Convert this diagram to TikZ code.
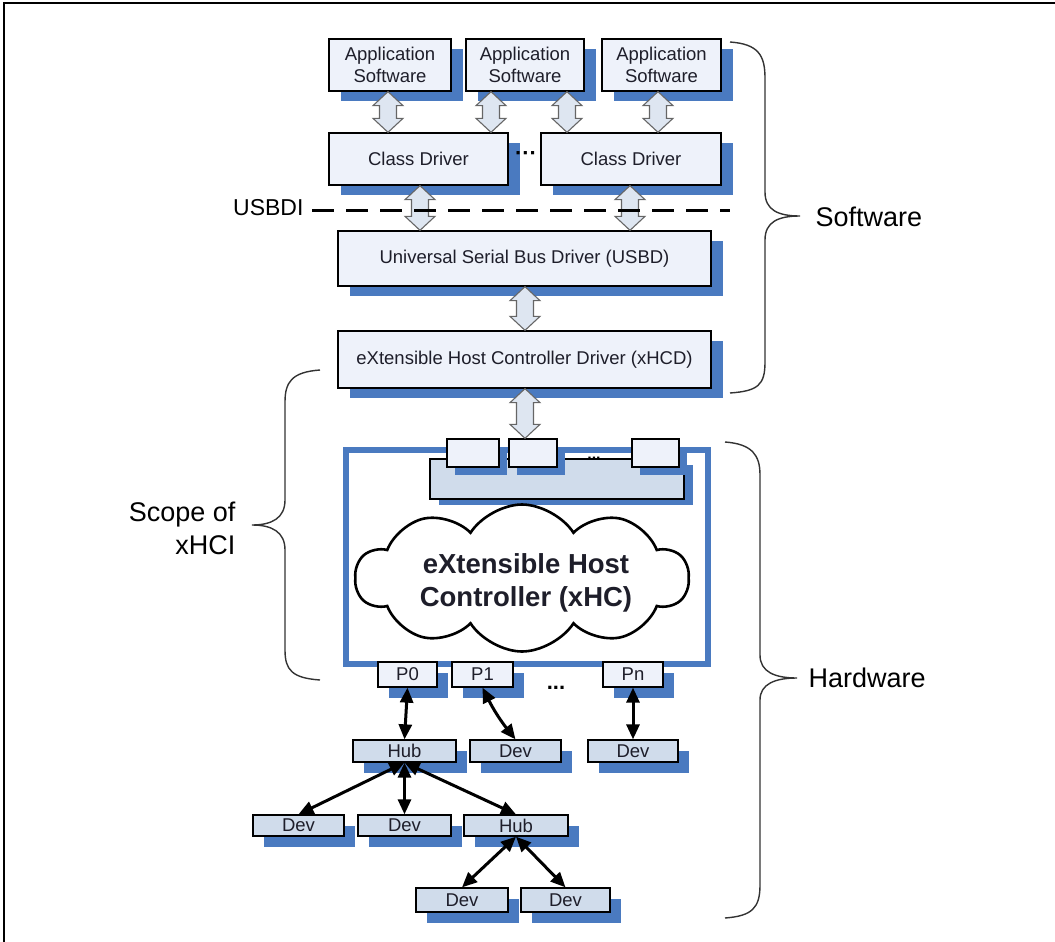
\documentclass[tikz,border=0pt]{standalone}
\usepackage{fontspec}
\setmainfont{Liberation Sans}
\usetikzlibrary{shapes.symbols,shadows,arrows.meta,calc}
\definecolor{sblue}{HTML}{4A7AC0}
\definecolor{bfill}{HTML}{EEF2FA}
\definecolor{dfill}{HTML}{D0DCEB}
\definecolor{afill}{HTML}{DEE6F1}
\definecolor{tcol}{HTML}{1E1E2A}
\tikzset{
 shd/.style 2 args={drop shadow={shadow xshift=#1pt, shadow yshift=-#2pt, fill=sblue, opacity=1}},
 boxbase/.style={draw=black, line width=1.3pt, fill=bfill, inner sep=0pt, font=\fontsize{18.5}{22}\selectfont, text=tcol, align=center},
 bigbox/.style={boxbase, shd={12}{10}},
 devbox/.style={boxbase, fill=dfill, shd={11}{11}},
 portbox/.style={boxbase, shd={11}{11}},
 qbox/.style={boxbase, shd={8}{8}},
 barrow/.style={draw=black!60, fill=afill, line width=1.1pt, line join=miter},
 lnk/.style={line width=3pt, {Triangle[length=15pt,width=13pt]}-{Triangle[length=15pt,width=13pt]}},
 bracepath/.style={draw=black!80, line width=1.4pt},
 lbl/.style={font=\fontsize{27}{33}\selectfont, text=black},
}
\newcommand\blkarrow[3]{\draw[barrow] let \p1=(#2.south), \p2=(#3.north) in
  ({#1pt},\y1) -- ++(15pt,-14pt) -- ++(-6.5pt,0pt) -- ({#1pt+8.5pt},{\y2+14pt}) -- ++(6.5pt,0pt)
  -- ({#1pt},\y2) -- ++(-15pt,14pt) -- ++(6.5pt,0pt) -- ({#1pt-8.5pt},{\y1-14pt}) -- ++(-6.5pt,0pt) -- cycle;}
\begin{document}
\begin{tikzpicture}[x=1pt,y=-1pt]
\useasboundingbox (0,0) rectangle (1055,942);
% frame
\draw[line width=2.2pt] (4,942) -- (4,3) -- (1055,3);

% software stack
\node[bigbox, minimum width=122pt, minimum height=52pt] (app1) at (390,65) {Application\\Software};
\node[bigbox, minimum width=118pt, minimum height=52pt] (app2) at (525,65) {Application\\Software};
\node[bigbox, minimum width=119pt, minimum height=52pt] (app3) at (661.5,65) {Application\\Software};
\node[bigbox, minimum width=179pt, minimum height=52pt] (cd1) at (418.5,159) {Class Driver};
\node[bigbox, minimum width=180pt, minimum height=52pt] (cd2) at (631,159) {Class Driver};
\node[font=\bfseries\fontsize{22}{24}\selectfont] (cddots) at (526,156) {···};
\node[bigbox, minimum width=373pt, minimum height=55pt] (usbd) at (524.5,258.5) {Universal Serial Bus Driver (USBD)};
\node[bigbox, minimum width=373pt, minimum height=57pt] (xhcd) at (524.5,359.5) {eXtensible Host Controller Driver (xHCD)};

% hardware frame
\draw[sblue, line width=6pt] (346,450) rectangle (708,664);
\node[boxbase, fill=dfill, shd={9}{6}, minimum width=254pt, minimum height=40pt] (qrect) at (557,479) {};
\node[qbox, minimum width=52pt, minimum height=28pt] (qa) at (473,453) {};
\node[qbox, minimum width=48pt, minimum height=28pt] (qb) at (533,453) {};
\node[qbox, minimum width=47pt, minimum height=28pt] (qc) at (655.5,453) {};
\node[font=\bfseries\fontsize{16}{18}\selectfont, anchor=base] (qdots) at (594,459) {...};

% block arrows
\blkarrow{388}{app1}{cd1}
\blkarrow{491}{app2}{cd1}
\blkarrow{567}{app2}{cd2}
\blkarrow{658}{app3}{cd2}
\blkarrow{420}{cd1}{usbd}
\blkarrow{630}{cd2}{usbd}
\blkarrow{525}{usbd}{xhcd}
\blkarrow{525}{xhcd}{qb}

% USBDI line
\coordinate (dl) at (312,210);
\coordinate (dr) at (730,210);
\draw[line width=3pt, dash pattern=on 22pt off 12pt] (dl) -- (dr);
\node[lbl, font=\fontsize{23}{26}\selectfont, anchor=east] (usbdi) at (307,208) {USBDI};

% cloud
\node[cloud, cloud puffs=10, cloud puff arc=115, cloud ignores aspect, minimum width=333pt, minimum height=147pt, draw, line width=2.6pt, fill=white] (xhc) at (522,578) {};
\node[font=\bfseries\fontsize{27.5}{33}\selectfont, align=center, text=tcol] (xhct) at (526,583) {eXtensible Host\\Controller (xHC)};

% ports
\node[portbox, minimum width=59pt, minimum height=25pt] (p0) at (407.5,674.5) {P0};
\node[portbox, minimum width=61pt, minimum height=25pt] (p1) at (482.5,674.5) {P1};
\node[portbox, minimum width=60pt, minimum height=25pt] (pn) at (633,674.5) {Pn};
\node[font=\bfseries\fontsize{22}{24}\selectfont, anchor=base] (pdots) at (556,689) {...};

% devices
\node[devbox, minimum width=103pt, minimum height=22pt] (hub1) at (404.5,751) {Hub};
\node[devbox, minimum width=91pt, minimum height=22pt] (dev1) at (515.5,751) {Dev};
\node[devbox, minimum width=90pt, minimum height=22pt] (devn) at (633,751) {Dev};
\node[devbox, minimum width=91pt, minimum height=21pt] (deva) at (298.5,825.5) {Dev};
\node[devbox, minimum width=93pt, minimum height=21pt] (devb) at (404.5,825.5) {Dev};
\node[devbox, minimum width=104pt, minimum height=21pt] (hub2) at (516,825.5) {Hub};
\node[devbox, minimum width=92pt, minimum height=24pt] (devc) at (462,900) {Dev};
\node[devbox, minimum width=89pt, minimum height=24pt] (devd) at (565.5,900) {Dev};

\draw[lnk] (p0.south) -- (hub1.north);
\draw[lnk] (p1.south) to[bend right=6] (dev1.north);
\draw[lnk] (pn.south) -- (devn.north);
\draw[lnk] (hub1.south) -- (deva.north);
\draw[lnk] (hub1.south) -- (devb.north);
\draw[lnk] (hub1.south) -- (hub2.north);
\draw[lnk] (hub2.south) -- (devc.north);
\draw[lnk] (hub2.south) -- (devd.north);

% braces
\draw[bracepath] (730,42) .. controls (758,44) and (765,55) .. (765,78) -- (765,192)
  .. controls (765,210) and (778,216) .. (800,216) .. controls (778,216) and (765,222) .. (765,240)
  -- (765,362) .. controls (765,385) and (758,391) .. (730,393);
\node[lbl, anchor=west] (swl) at (812,217) {Software};

\draw[bracepath] (320,370) .. controls (292,372) and (285,382) .. (285,402) -- (285,500)
  .. controls (285,518) and (272,525) .. (252,525) .. controls (272,525) and (285,532) .. (285,550)
  -- (285,650) .. controls (285,670) and (292,678) .. (320,680);
\node[lbl, align=right, anchor=east] (scl) at (239,528) {Scope of\\xHCI};

\draw[bracepath] (725,442) .. controls (752,444) and (760,455) .. (760,475) -- (760,655)
  .. controls (760,672) and (775,678) .. (797,678) .. controls (775,678) and (760,684) .. (760,700)
  -- (760,885) .. controls (760,908) and (752,916) .. (725,918);
\node[lbl, anchor=west] (hwl) at (805,678) {Hardware};
\end{tikzpicture}
\end{document}
